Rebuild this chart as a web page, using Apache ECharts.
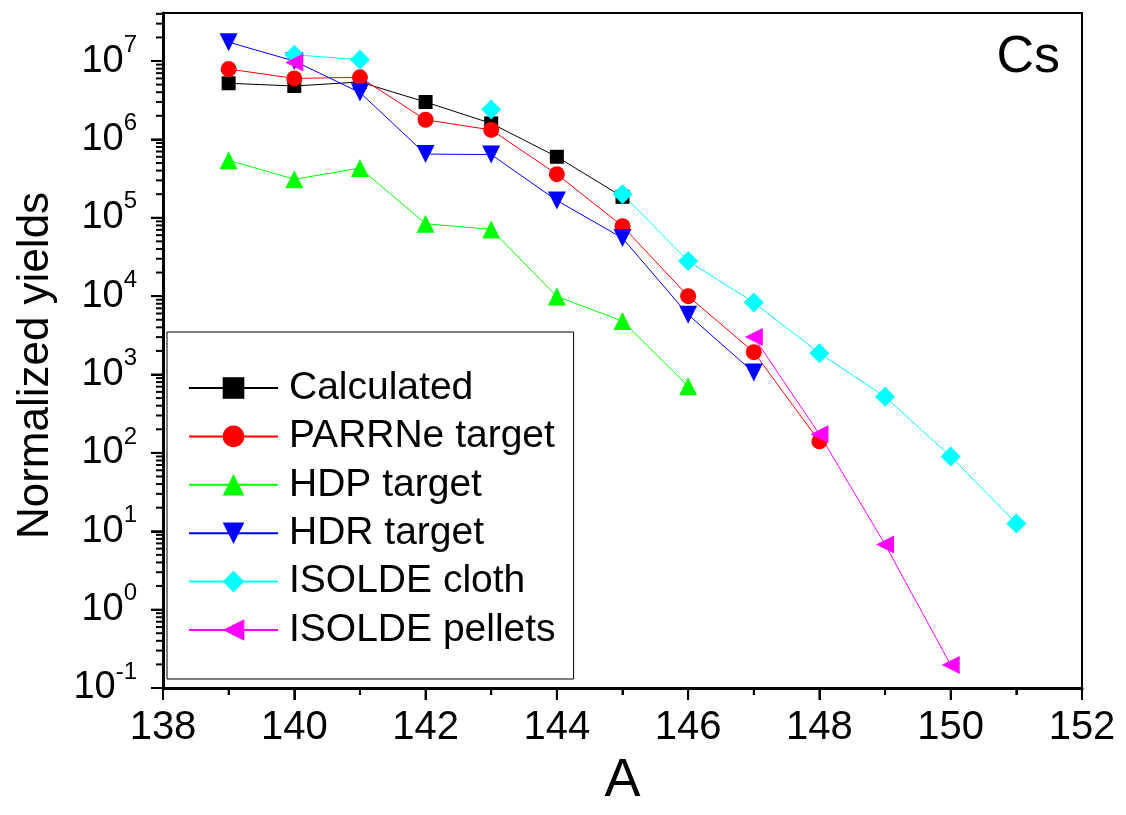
<!DOCTYPE html>
<html>
<head>
<meta charset="utf-8">
<script src="https://cdn.jsdelivr.net/npm/echarts@6/dist/echarts.min.js"></script>
<style>
  html, body { margin: 0; padding: 0; background: #fff; }
  #chart { width: 1126px; height: 815px; }
</style>
</head>
<body>
<div id="chart"></div>
<script>
// mass number A
const massNumbers = [139, 140, 141, 142, 143, 144, 145, 146, 147, 148, 149, 150, 151];

// normalized yields, null = no measurement
const calculated    = [5.2e6, 4.8e6, 5.4e6, 3.0e6, 1.6e6, 6.0e5, 1.85e5, null, null, null, null, null, null];
const parrneTarget  = [7.9e6, 6.0e6, 6.2e6, 1.78e6, 1.32e6, 3.6e5, 7.8e4, 1.0e4, 1.93e3, 1.4e2, null, null, null];
const hdpTarget     = [5.4e5, 3.1e5, 4.3e5, 8.4e4, 7.1e4, 9.9e3, 4.8e3, 7.1e2, null, null, null, null, null];
const hdrTarget     = [1.74e7, 1.0e7, 3.96e6, 6.5e5, 6.4e5, 1.66e5, 5.5e4, 5.8e3, 1.06e3, null, null, null, null];
const isoldeCloth   = [null, 1.2e7, 1.04e7, null, 2.4e6, null, 2.0e5, 2.8e4, 8.3e3, 1.87e3, 5.2e2, 90, 12.6];
const isoldePellets = [null, 9.6e6, null, null, null, null, null, null, 3.0e3, 1.73e2, 6.8, 0.197, null];

// axis ticks
const yExponents = [-1, 0, 1, 2, 3, 4, 5, 6, 7];
const yMin = 0.1, yMax = 4.1e7;
const xMajor = [138, 140, 142, 144, 146, 148, 150, 152];
const xMinor = [139, 141, 143, 145, 147, 149, 151];

const FONT = 'Liberation Sans, Arial, sans-serif';
const GRID = { left: 163, top: 13, right: 44, bottom: 127 };
const plotBottom = 815 - GRID.bottom;

let majorTicks = yExponents.map(e => Math.pow(10, e));
let minorTicks = [];
yExponents.forEach(e => {
  for (let m = 2; m <= 9; m++) {
    let v = m * Math.pow(10, e);
    if (v < yMax) minorTicks.push(v);
  }
});

function pairs(values) {
  return massNumbers.map((a, i) => [a, values[i] == null ? '-' : values[i]]);
}

let seriesDefs = [
  { name: 'Calculated', values: calculated, color: '#000000', symbol: 'rect', size: 14, rotate: 0 },
  { name: 'PARRNe target', values: parrneTarget, color: '#ff0000', symbol: 'circle', size: 16, rotate: 0 },
  { name: 'HDP target', values: hdpTarget, color: '#00ff00', symbol: 'triangle', size: 18, rotate: 0 },
  { name: 'HDR target', values: hdrTarget, color: '#0000ff', symbol: 'triangle', size: 18, rotate: 180 },
  { name: 'ISOLDE cloth', values: isoldeCloth, color: '#00ffff', symbol: 'diamond', size: 20, rotate: 0 },
  { name: 'ISOLDE pellets', values: isoldePellets, color: '#ff00ff', symbol: 'triangle', size: 18, rotate: 90 }
];

let chart = echarts.init(document.getElementById('chart'));

let option = {
  animation: false,
  backgroundColor: '#fff',
  textStyle: { fontFamily: FONT, color: '#000' },
  title: {
    text: 'Cs',
    right: 66,
    top: 32,
    padding: 0,
    textStyle: { fontFamily: FONT, fontSize: 52, fontWeight: 'normal', color: '#000' }
  },
  grid: {
    left: GRID.left, top: GRID.top, right: GRID.right, bottom: GRID.bottom,
    show: true, borderColor: '#000', borderWidth: 2,
    outerBoundsMode: 'none'
  },
  legend: {
    orient: 'vertical',
    left: 167, top: 332,
    padding: [36, 18, 29, 21],
    borderColor: '#000', borderWidth: 1,
    itemWidth: 89, itemHeight: 27, itemGap: 8.4,
    textStyle: { fontFamily: FONT, fontSize: 39, lineHeight: 40, color: '#000', padding: [0, 0, 0, 6] },
    selectedMode: false,
    data: seriesDefs.map(s => s.name)
  },
  xAxis: {
    type: 'value',
    min: xMajor[0], max: xMajor[xMajor.length - 1], interval: 2,
    name: 'A',
    nameLocation: 'middle',
    nameGap: 66,
    nameTextStyle: { fontFamily: FONT, fontSize: 54, color: '#000' },
    axisLine: { show: true, onZero: false, lineStyle: { color: '#000', width: 3 } },
    axisTick: { show: true, length: 12, lineStyle: { color: '#000', width: 2 } },
    minorTick: { show: true, splitNumber: 2, length: 7, lineStyle: { color: '#000', width: 2 } },
    axisLabel: { fontFamily: FONT, fontSize: 40, color: '#000', margin: 20 },
    splitLine: { show: false }
  },
  yAxis: {
    type: 'log',
    min: yMin, max: yMax,
    name: 'Normalized yields',
    nameLocation: 'middle',
    nameGap: 105,
    nameTextStyle: { fontFamily: FONT, fontSize: 44, color: '#000', padding: [0, 30, 0, 0] },
    axisLine: { show: true, onZero: false, lineStyle: { color: '#000', width: 3 } },
    axisTick: { show: true, length: 12, customValues: majorTicks, lineStyle: { color: '#000', width: 2 } },
    axisLabel: {
      customValues: majorTicks,
      margin: 26,
      formatter: function (v) {
        let e = Math.round(Math.log10(v));
        return '{b|10}{s|' + e + '}';
      },
      rich: {
        b: { fontFamily: FONT, fontSize: 38, lineHeight: 56, color: '#000' },
        s: { fontFamily: FONT, fontSize: 24, lineHeight: 24, verticalAlign: 'top', color: '#000' }
      }
    },
    splitLine: { show: false }
  },
  series: seriesDefs.map(s => ({
    name: s.name,
    type: 'line',
    data: pairs(s.values),
    connectNulls: false,
    symbol: s.symbol,
    symbolSize: s.size,
    symbolRotate: s.rotate,
    showAllSymbol: true,
    itemStyle: { color: s.color },
    lineStyle: { color: s.color, width: 1 },
    emphasis: { disabled: true },
    silent: true
  }))
};

chart.setOption(option);

// outward ticks, placed through the chart's own scales
function tick(x1, y1, x2, y2) {
  return {
    type: 'line', silent: true, z: 100,
    shape: { x1: x1, y1: y1, x2: x2, y2: y2 },
    style: { stroke: '#000', lineWidth: 2 }
  };
}
let tickLines = [];
majorTicks.forEach(v => {
  let y = chart.convertToPixel({ yAxisIndex: 0 }, v);
  tickLines.push(tick(GRID.left - 12, y, GRID.left, y));
});
minorTicks.forEach(v => {
  let y = chart.convertToPixel({ yAxisIndex: 0 }, v);
  tickLines.push(tick(GRID.left - 7, y, GRID.left, y));
});
xMajor.forEach(v => {
  let x = chart.convertToPixel({ xAxisIndex: 0 }, v);
  tickLines.push(tick(x, plotBottom, x, plotBottom + 12));
});
xMinor.forEach(v => {
  let x = chart.convertToPixel({ xAxisIndex: 0 }, v);
  tickLines.push(tick(x, plotBottom, x, plotBottom + 7));
});
chart.setOption({ graphic: { elements: tickLines } });
</script>
</body>
</html>
